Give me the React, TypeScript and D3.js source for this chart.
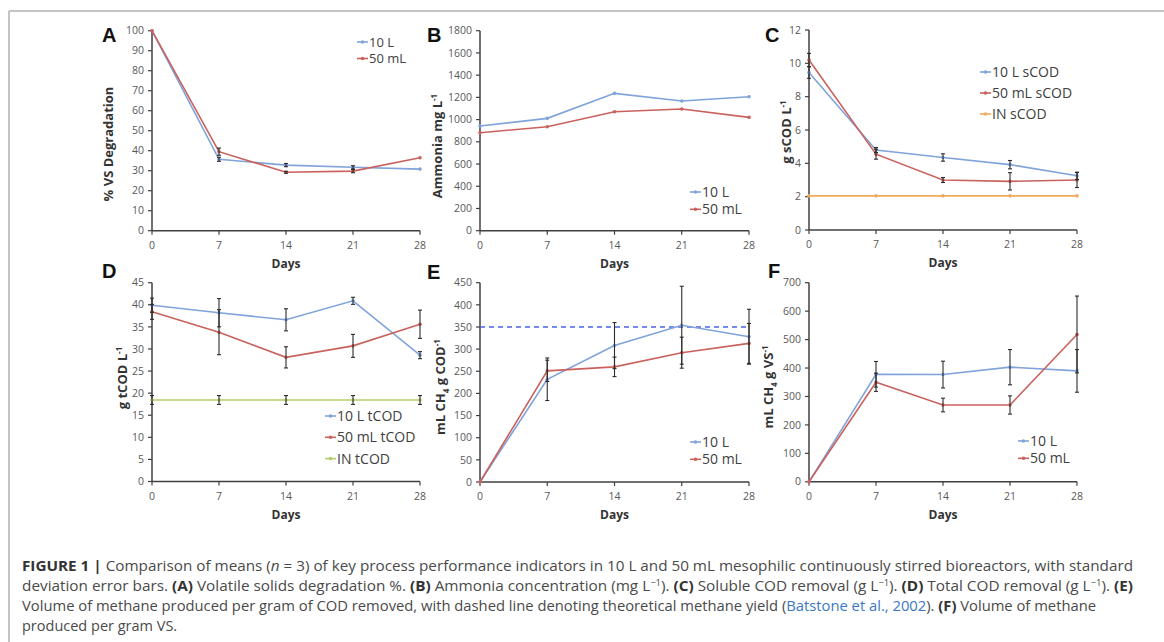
import React from "react";
import * as d3 from "d3";

const days = [0, 7, 14, 21, 28];
const dayTicks = ["0", "7", "14", "21", "28"];

// Panel A – % VS degradation
const vsDeg10L = [100, 35.7, 32.8, 31.7, 30.8];
const vsDeg10LErr = [0, 1, 0.8, 0.8, 0];
const vsDeg50mL = [100, 39.5, 29.2, 29.8, 36.5];
const vsDeg50mLErr = [0, 1.8, 0.5, 0.8, 0];

// Panel B – ammonia mg/L
const amm10L = [942, 1011, 1236, 1167, 1206];
const amm50mL = [882, 936, 1071, 1095, 1020];

// Panel C – sCOD g/L
const sCOD10L = [9.45, 4.8, 4.35, 3.92, 3.25];
const sCOD10LErr = [0.35, 0.15, 0.22, 0.25, 0.22];
const sCOD50mL = [10.2, 4.55, 3.0, 2.92, 3.0];
const sCOD50mLErr = [0.4, 0.3, 0.15, 0.52, 0.45];
const sCODIN = [2.05, 2.05, 2.05, 2.05, 2.05];

// Panel D – tCOD g/L
const tCOD10L = [39.9, 38.2, 36.6, 40.9, 28.6];
const tCOD10LErr = [1.6, 3.2, 2.5, 0.8, 0.8];
const tCOD50mL = [38.4, 33.8, 28.1, 30.7, 35.6];
const tCOD50mLErr = [1.7, 5.1, 2.4, 2.6, 3.2];
const tCODIN = [18.45, 18.45, 18.45, 18.45, 18.45];
const tCODINErr = [1, 1, 1, 1, 1];

// Panel E – mL CH4 / g COD
const ch4COD10L = [0, 232, 308, 354, 328];
const ch4COD10LErr = [0, 48, 52, 88, 62];
const ch4COD50mL = [0, 251, 260, 292, 313];
const ch4COD50mLErr = [0, 24, 22, 35, 45];
const theoreticalYield = 350;

// Panel F – mL CH4 / g VS
const ch4VS10L = [0, 378, 377, 403, 390];
const ch4VS10LErr = [0, 45, 47, 62, 75];
const ch4VS50mL = [0, 350, 270, 270, 518];
const ch4VS50mLErr = [0, 32, 24, 32, 135];

const BLUE = "#7FA3DA";
const RED = "#C9625D";
const ORANGE = "#F0AA5C";
const GREEN = "#B3CC6E";
const DASH = "#4A63E8";
const AXIS = "#404040";
const TXT = "#595959";
const FONT = "'Open Sans', 'Liberation Sans', sans-serif";

type Series = { name: string; color: string; values: number[]; err?: number[] };

type PanelProps = {
  label: string;
  labelX: number;
  labelY: number;
  x0: number;
  width: number;
  top: number;
  bottom: number;
  max: number;
  step: number;
  series: Series[];
  yTitle: React.ReactNode;
  yTitleX: number;
  yTitleY: number;
  legendX: number;
  legendY: number;
  legendDy: number;
  legendFont?: number;
  refLine?: number;
};

function Panel(p: PanelProps) {
  const x = d3.scaleLinear().domain([0, 28]).range([p.x0, p.x0 + p.width]);
  const y = d3.scaleLinear().domain([0, p.max]).range([p.bottom, p.top]);
  const yTicks = d3.range(0, p.max + p.step / 2, p.step);
  const line = d3
    .line<number>()
    .x((_, i) => x(days[i]))
    .y((v) => y(v));
  return (
    <g>
      <text x={p.labelX} y={p.labelY} fontFamily="'Liberation Sans', Arial, sans-serif" fontWeight="bold" fontSize={20} fill="#111">
        {p.label}
      </text>
      {/* y axis */}
      <line x1={p.x0} x2={p.x0} y1={p.top} y2={p.bottom} stroke={AXIS} strokeWidth={1.5} />
      {yTicks.map((t) => (
        <g key={t}>
          <line x1={p.x0 - 4} x2={p.x0} y1={y(t)} y2={y(t)} stroke={AXIS} strokeWidth={1.2} />
          <text x={p.x0 - 8} y={y(t)} dy="0.35em" textAnchor="end" fontFamily={FONT} fontSize={10.5} fill={TXT}>
            {t}
          </text>
        </g>
      ))}
      {/* x axis */}
      <line x1={p.x0} x2={p.x0 + p.width} y1={p.bottom} y2={p.bottom} stroke={AXIS} strokeWidth={1.5} />
      {days.map((d, i) => (
        <g key={d}>
          <line x1={x(d)} x2={x(d)} y1={p.bottom} y2={p.bottom + 4} stroke={AXIS} strokeWidth={1.2} />
          <text x={x(d)} y={p.bottom + 18} textAnchor="middle" fontFamily={FONT} fontSize={10.5} fill={TXT}>
            {dayTicks[i]}
          </text>
        </g>
      ))}
      <text x={p.x0 + p.width / 2} y={p.bottom + 37} textAnchor="middle" fontFamily={FONT} fontWeight="bold" fontSize={12} fill="#333">
        Days
      </text>
      <text
        transform={`translate(${p.yTitleX},${p.yTitleY}) rotate(-90)`}
        textAnchor="middle"
        dy="0.35em"
        fontFamily={FONT}
        fontWeight="bold"
        fontSize={13}
        fill="#333"
      >
        {p.yTitle}
      </text>
      {p.refLine !== undefined && (
        <line
          x1={p.x0}
          x2={p.x0 + p.width}
          y1={y(p.refLine)}
          y2={y(p.refLine)}
          stroke={DASH}
          strokeWidth={1.3}
          strokeDasharray="5,4"
        />
      )}
      {p.series.map((s) => (
        <g key={s.name}>
          <path d={line(s.values) || ""} fill="none" stroke={s.color} strokeWidth={1.6} />
          {s.values.map((v, i) => (
            <circle key={i} cx={x(days[i])} cy={y(v)} r={1.8} fill={s.color} />
          ))}
        </g>
      ))}
      {p.series.map((s) =>
        s.err
          ? s.values.map((v, i) => {
              const e = s.err![i];
              if (!e) return null;
              const cx = x(days[i]);
              return (
                <g key={s.name + i} stroke="#2b2b2b" strokeWidth={1.1}>
                  <line x1={cx} x2={cx} y1={y(v + e)} y2={y(v - e)} />
                  <line x1={cx - 2} x2={cx + 2} y1={y(v + e)} y2={y(v + e)} />
                  <line x1={cx - 2} x2={cx + 2} y1={y(v - e)} y2={y(v - e)} />
                </g>
              );
            })
          : null
      )}
      {p.series.map((s, i) => {
        const ly = p.legendY + i * p.legendDy;
        return (
          <g key={"lg" + s.name}>
            <line x1={p.legendX} x2={p.legendX + 11} y1={ly} y2={ly} stroke={s.color} strokeWidth={1.6} />
            <circle cx={p.legendX + 5.5} cy={ly} r={1.8} fill={s.color} />
            <text x={p.legendX + 12} y={ly} dy="0.35em" fontFamily={FONT} fontSize={p.legendFont ?? 14} fill="#404040">
              {s.name}
            </text>
          </g>
        );
      })}
    </g>
  );
}

const sup = (t: string) => (
  <>
    <tspan dy={-5} fontSize={8}>
      {t}
    </tspan>
    <tspan dy={5}> </tspan>
  </>
);

export default function App() {
  return (
    <svg
      width={1164}
      height={642}
      style={{ position: "absolute", left: 0, top: 0, background: "#fff" }}
    >
      <rect x={0} y={0} width={1164} height={642} fill="#fff" />
      <line x1={9} x2={1164} y1={11} y2={11} stroke="#b0b0b0" strokeWidth={1.5} />
      <line x1={9} x2={9} y1={11} y2={642} stroke="#b0b0b0" strokeWidth={1.5} />

      <Panel
        label="A"
        labelX={102}
        labelY={42}
        x0={152}
        width={268}
        top={30.7}
        bottom={230.7}
        max={100}
        step={10}
        series={[
          { name: "10 L", color: BLUE, values: vsDeg10L, err: vsDeg10LErr },
          { name: "50 mL", color: RED, values: vsDeg50mL, err: vsDeg50mLErr },
        ]}
        yTitle="% VS Degradation"
        yTitleX={108}
        yTitleY={144}
        legendX={357}
        legendY={42}
        legendDy={16.5}
        legendFont={13}
      />
      <Panel
        label="B"
        labelX={427}
        labelY={42}
        x0={480}
        width={269}
        top={30.7}
        bottom={230.7}
        max={1800}
        step={200}
        series={[
          { name: "10 L", color: BLUE, values: amm10L },
          { name: "50 mL", color: RED, values: amm50mL },
        ]}
        yTitle={<>Ammonia mg L{sup("-1")}</>}
        yTitleX={437}
        yTitleY={146}
        legendX={690}
        legendY={192}
        legendDy={17.3}
      />
      <Panel
        label="C"
        labelX={765}
        labelY={42}
        x0={809}
        width={268}
        top={30}
        bottom={230}
        max={12}
        step={2}
        series={[
          { name: "10 L sCOD", color: BLUE, values: sCOD10L, err: sCOD10LErr },
          { name: "50 mL sCOD", color: RED, values: sCOD50mL, err: sCOD50mLErr },
          { name: "IN sCOD", color: ORANGE, values: sCODIN },
        ]}
        yTitle={<>g sCOD L{sup("-1")}</>}
        yTitleX={786}
        yTitleY={132}
        legendX={980}
        legendY={72}
        legendDy={21}
      />
      <Panel
        label="D"
        labelX={102}
        labelY={278}
        x0={152}
        width={268}
        top={282.7}
        bottom={481.5}
        max={45}
        step={5}
        series={[
          { name: "10 L tCOD", color: BLUE, values: tCOD10L, err: tCOD10LErr },
          { name: "50 mL tCOD", color: RED, values: tCOD50mL, err: tCOD50mLErr },
          { name: "IN tCOD", color: GREEN, values: tCODIN, err: tCODINErr },
        ]}
        yTitle={<>g tCOD L{sup("-1")}</>}
        yTitleX={122}
        yTitleY={378}
        legendX={325}
        legendY={416}
        legendDy={21.3}
      />
      <Panel
        label="E"
        labelX={427}
        labelY={279}
        x0={480}
        width={269}
        top={282.7}
        bottom={482}
        max={450}
        step={50}
        series={[
          { name: "10 L", color: BLUE, values: ch4COD10L, err: ch4COD10LErr },
          { name: "50 mL", color: RED, values: ch4COD50mL, err: ch4COD50mLErr },
        ]}
        refLine={theoreticalYield}
        yTitle={
          <>
            mL CH
            <tspan dy={4} fontSize={8}>4</tspan>
            <tspan dy={-4}> g COD</tspan>
            {sup("-1")}
          </>
        }
        yTitleX={440}
        yTitleY={387}
        legendX={690}
        legendY={442}
        legendDy={17.3}
      />
      <Panel
        label="F"
        labelX={768}
        labelY={278}
        x0={809}
        width={268}
        top={282.7}
        bottom={481.8}
        max={700}
        step={100}
        series={[
          { name: "10 L", color: BLUE, values: ch4VS10L, err: ch4VS10LErr },
          { name: "50 mL", color: RED, values: ch4VS50mL, err: ch4VS50mLErr },
        ]}
        yTitle={
          <>
            mL CH
            <tspan dy={4} fontSize={8}>4</tspan>
            <tspan dy={-4}> g VS</tspan>
            {sup("-1")}
          </>
        }
        yTitleX={768}
        yTitleY={387}
        legendX={1018}
        legendY={441}
        legendDy={17.3}
      />

      <g fontFamily={FONT} fontSize={14.5} fill="#4a4a4a">
        <text x={22} y={571} textLength={1111} lengthAdjust="spacingAndGlyphs">
          <tspan fontWeight="bold" fill="#333">FIGURE 1 | </tspan>
          Comparison of means (<tspan fontStyle="italic">n</tspan> = 3) of key process performance indicators in 10 L and 50 mL
          mesophilic continuously stirred bioreactors, with standard
        </text>
        <text x={22} y={591} textLength={1111} lengthAdjust="spacingAndGlyphs">
          deviation error bars. <tspan fontWeight="bold" fill="#333">(A)</tspan> Volatile solids degradation %.{" "}
          <tspan fontWeight="bold" fill="#333">(B)</tspan> Ammonia concentration (mg L
          <tspan dy={-5} fontSize={9}>−1</tspan>
          <tspan dy={5}>). </tspan>
          <tspan fontWeight="bold" fill="#333">(C)</tspan> Soluble COD removal (g L
          <tspan dy={-5} fontSize={9}>−1</tspan>
          <tspan dy={5}>). </tspan>
          <tspan fontWeight="bold" fill="#333">(D)</tspan> Total COD removal (g L
          <tspan dy={-5} fontSize={9}>−1</tspan>
          <tspan dy={5}>). </tspan>
          <tspan fontWeight="bold" fill="#333">(E)</tspan>
        </text>
        <text x={22} y={611} textLength={1074} lengthAdjust="spacingAndGlyphs">
          Volume of methane produced per gram of COD removed, with dashed line denoting theoretical methane yield (
          <tspan fill="#3b78c4">Batstone et al., 2002</tspan>). <tspan fontWeight="bold" fill="#333">(F)</tspan> Volume of
          methane
        </text>
        <text x={22} y={631}>
          produced per gram VS.
        </text>
      </g>
    </svg>
  );
}
